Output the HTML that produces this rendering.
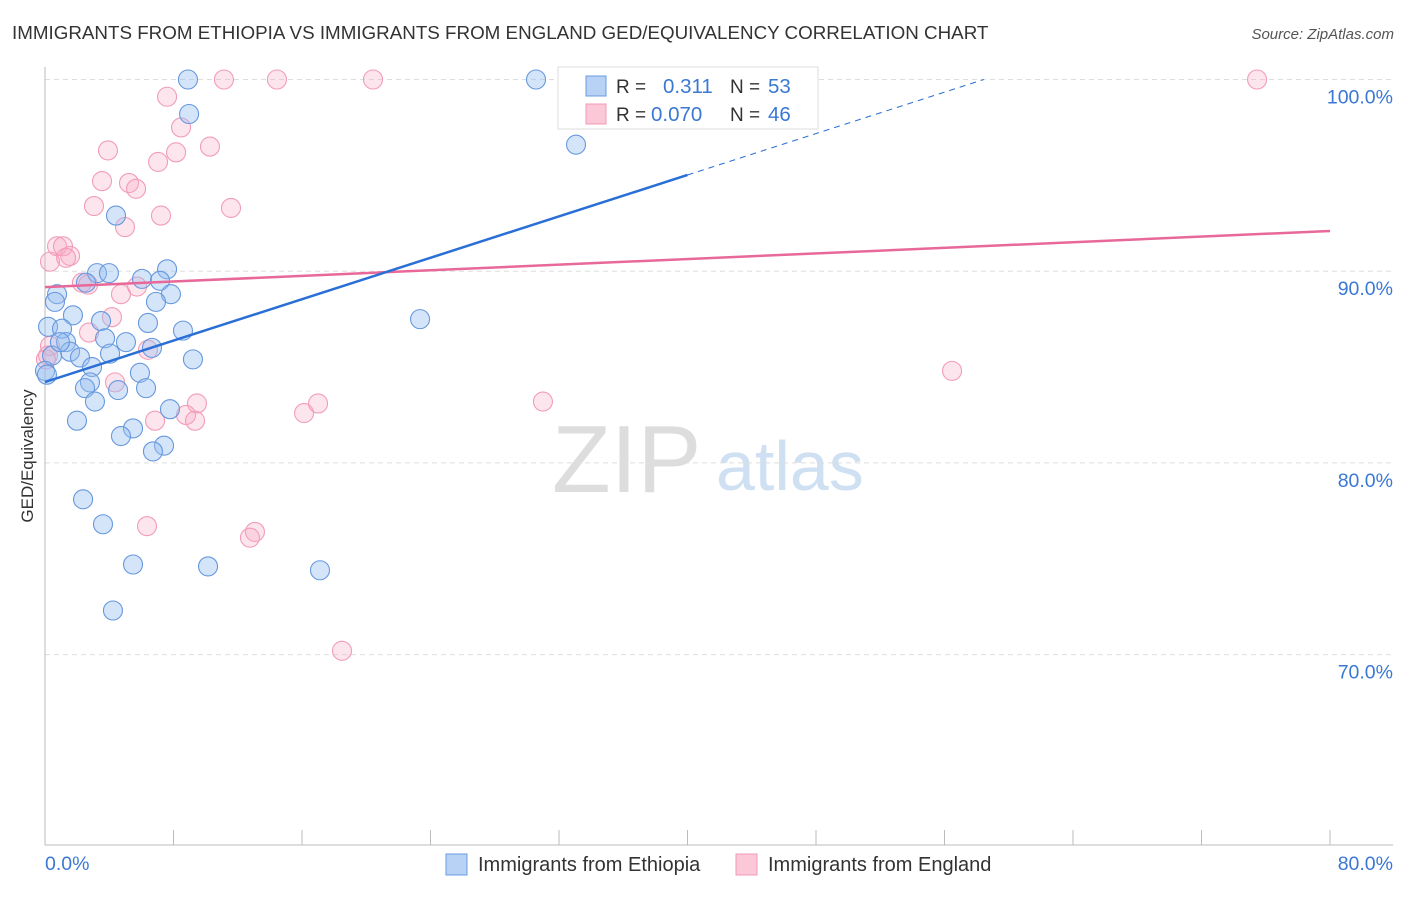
<!DOCTYPE html>
<html><head><meta charset="utf-8"><style>
body{margin:0;background:#fff;font-family:"Liberation Sans",sans-serif;}
svg text{font-family:"Liberation Sans",sans-serif;}
</style></head><body>
<svg id="chart" width="1406" height="892" viewBox="0 0 1406 892">
<text x="12" y="39" font-size="18.8" fill="#333">IMMIGRANTS FROM ETHIOPIA VS IMMIGRANTS FROM ENGLAND GED/EQUIVALENCY CORRELATION CHART</text>
<text x="1394" y="39" font-size="15" fill="#555" font-style="italic" text-anchor="end">Source: ZipAtlas.com</text>
<g>
<text x="552" y="492" font-size="96" font-family="Liberation Serif" fill="#ddd">ZIP</text>
<text x="716" y="490" font-size="70" fill="#cfe0f3">atlas</text>
</g>
<g id="grid"></g>
<g id="axes"></g>
<g id="pts"></g>
<g id="lines"></g>
<text x="33" y="456" font-size="17" fill="#333" text-anchor="middle" transform="rotate(-90 33 456)">GED/Equivalency</text>
<g>
<rect x="558" y="67" width="260" height="62" fill="#fff" stroke="#ddd"/>
<rect x="586" y="76" width="20" height="20" fill="#b8d2f5" stroke="#6a9be0"/>
<rect x="586" y="104" width="20" height="20" fill="#fbc8d7" stroke="#f09ab5"/>
<text x="616" y="93" font-size="19" fill="#333">R = </text><text x="663" y="93" font-size="20.5" fill="#3a78d4">0.311</text>
<text x="730" y="93" font-size="19" fill="#333">N = </text><text x="768" y="93" font-size="20.5" fill="#3a78d4">53</text>
<text x="616" y="121" font-size="19" fill="#333">R = </text><text x="651" y="121" font-size="20.5" fill="#3a78d4">0.070</text>
<text x="730" y="121" font-size="19" fill="#333">N = </text><text x="768" y="121" font-size="20.5" fill="#3a78d4">46</text>
</g>
<g>
<rect x="446" y="854" width="21" height="21" fill="#b8d2f5" stroke="#6a9be0"/>
<text x="478" y="871" font-size="20" fill="#333">Immigrants from Ethiopia</text>
<rect x="736" y="854" width="21" height="21" fill="#fbc8d7" stroke="#f09ab5"/>
<text x="768" y="871" font-size="20" fill="#333">Immigrants from England</text>
</g>
</svg>
<script>
const xTicks=[0,10,20,30,40,50,60,70,80];
const yTicks=[70,80,90,100];
const ethX=[8.90,30.57,8.97,33.06,4.42,7.60,3.24,3.98,6.04,7.16,2.55,0.75,7.84,6.91,0.62,1.74,3.49,6.41,23.35,8.59,0.19,1.06,3.74,5.04,1.31,6.66,1.56,4.05,9.21,0.44,2.18,2.93,5.91,0.0,2.80,4.55,6.29,2.49,3.11,7.78,1.99,5.48,4.73,7.41,6.72,2.37,3.61,5.48,10.15,17.12,4.23,0.12,0.93];
const ethY=[100,100,98.2,96.6,92.9,90.1,89.9,89.9,89.6,89.5,89.4,88.8,88.8,88.4,88.4,87.7,87.4,87.3,87.5,86.9,87.1,87.0,86.5,86.3,86.3,86.0,85.8,85.7,85.4,85.6,85.5,85.0,84.7,84.8,84.2,83.8,83.9,83.9,83.2,82.8,82.2,81.8,81.4,80.9,80.6,78.1,76.8,74.7,74.6,74.4,72.3,84.6,86.3];
const engX=[11.14,14.44,20.42,32.94,75.46,7.60,8.47,10.27,3.92,8.16,7.04,3.55,5.23,5.67,3.05,11.58,7.22,4.98,0.75,1.12,1.56,1.31,0.31,2.30,2.68,4.73,5.73,4.17,2.74,6.41,0.31,56.47,4.36,9.46,8.78,9.34,6.85,16.13,17.0,31.0,6.35,13.07,12.76,18.49,0.19,0.06];
const engY=[100,100,100,100,100,99.1,97.5,96.5,96.3,96.2,95.7,94.7,94.6,94.3,93.4,93.3,92.9,92.3,91.3,91.3,90.8,90.7,90.5,89.4,89.3,88.8,89.2,87.6,86.8,85.9,86.1,84.8,84.2,83.1,82.5,82.2,82.2,82.6,83.1,83.2,76.7,76.4,76.1,70.2,85.6,85.4];
const ethTrend=[84.22,0.270];
const engTrend=[89.17,0.0366];
const X=v=>45+v/80*1285;
const Y=v=>79.5+(100-v)*19.17;
const NS='http://www.w3.org/2000/svg';
function mk(tag,attrs,parent){const e=document.createElementNS(NS,tag);for(const k in attrs)e.setAttribute(k,attrs[k]);parent.appendChild(e);return e;}
const grid=document.getElementById('grid'),axes=document.getElementById('axes'),pts=document.getElementById('pts'),lines=document.getElementById('lines');
yTicks.forEach(t=>{
 const l=mk('line',{x1:45,x2:1393,y1:Y(t),y2:Y(t),stroke:'#ddd','stroke-dasharray':'5,4'},grid);
 
 
 const tx=mk('text',{x:1393,y:Y(t)+24,'font-size':19.5,fill:'#3a78d4','text-anchor':'end'},axes);
 tx.textContent=t.toFixed(1)+'%';
 
 
});
let a=mk('line',{x1:45,x2:45,y1:67,y2:845,stroke:'#bbb'},axes);


a=mk('line',{x1:45,x2:1393,y1:845,y2:845,stroke:'#bbb'},axes);


for(let i=0;i<=10;i++){const v=i*8;const t=mk('line',{x1:X(v),x2:X(v),y1:830,y2:845,stroke:'#bbb'},axes);
 
 }
[[0,'start',45],[80,'end',1393]].forEach(([v,anc,px])=>{const t=mk('text',{x:px,y:870,'font-size':19.5,fill:'#3a78d4','text-anchor':anc},axes);t.textContent=v.toFixed(1)+'%';
 
 });
function dots(xs,ys,fill,stroke,name){xs.forEach((x,i)=>{const c=mk('circle',{cx:X(x),cy:Y(ys[i]),r:9.5,fill:fill,stroke:stroke,'stroke-width':1.1},pts);
 
 });}
dots(engX,engY,'rgba(248,170,195,0.3)','#f29cb8','england-point');
dots(ethX,ethY,'rgba(150,190,240,0.4)','#6698de','ethiopia-point');
let L=mk('line',{x1:X(0),y1:Y(engTrend[0]),x2:X(80),y2:Y(engTrend[0]+engTrend[1]*80),stroke:'#e8689a','stroke-width':2.5},lines);


L=mk('line',{x1:X(0),y1:Y(ethTrend[0]),x2:X(40),y2:Y(ethTrend[0]+ethTrend[1]*40),stroke:'#2a6fd6','stroke-width':2.5},lines);


const xe=(100-ethTrend[0])/ethTrend[1];
L=mk('line',{x1:X(40),y1:Y(ethTrend[0]+ethTrend[1]*40),x2:X(xe),y2:Y(100),stroke:'#2a6fd6','stroke-width':1,'stroke-dasharray':'6,5'},lines);


</script>
</body></html>
